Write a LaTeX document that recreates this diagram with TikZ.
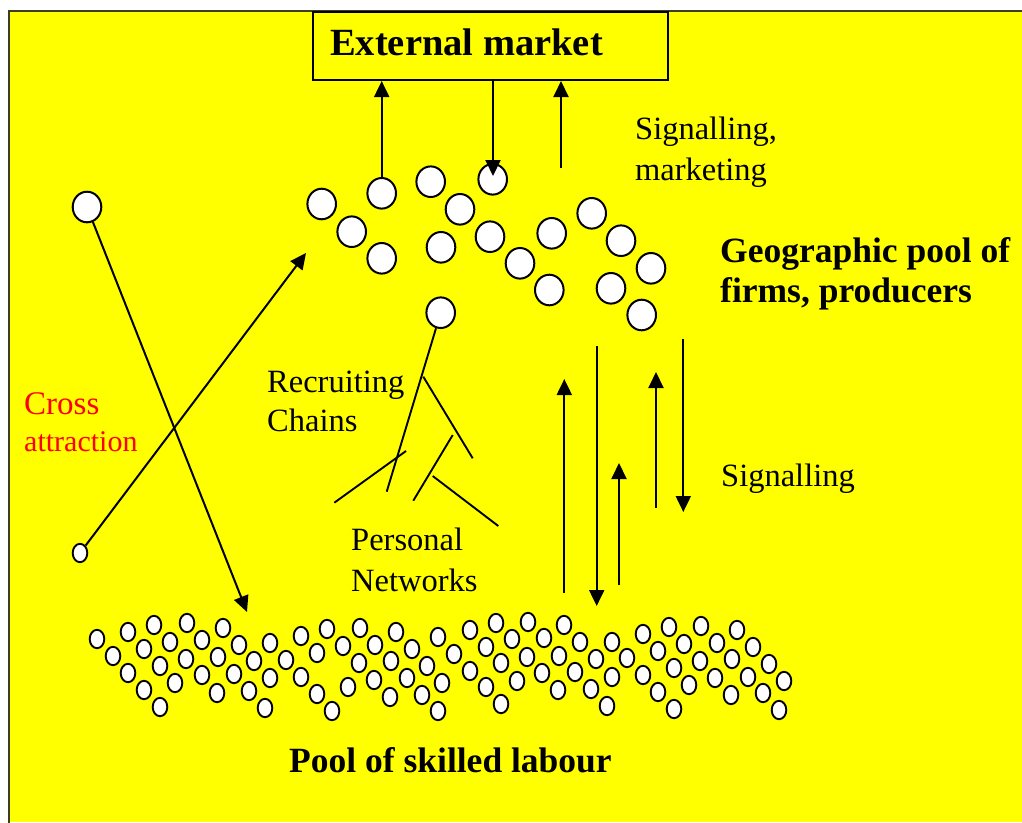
\documentclass[tikz,border=0pt]{standalone}
\usepackage{fontspec}
\setmainfont{Liberation Serif}
\usetikzlibrary{shapes.geometric,arrows.meta}
\definecolor{frameline}{RGB}{60,60,30}
\definecolor{bgyellow}{RGB}{255,255,0}
\begin{document}
\begin{tikzpicture}[x=1pt,y=-1pt,
  firm/.style={ellipse,draw=black,fill=white,line width=2pt,minimum width=28.6pt,minimum height=30.6pt,inner sep=0pt},
  worker/.style={ellipse,draw=black,fill=white,line width=1.9pt,minimum width=14.6pt,minimum height=18.4pt,inner sep=0pt},
  arr/.style={line width=2pt,-{Triangle[length=16pt,width=15pt]}},
  ln/.style={line width=1.9pt},
  lbl/.style={anchor=base west,inner sep=0pt,font=\fontsize{32.5}{38}\selectfont},
  blbl/.style={anchor=base west,inner sep=0pt,font=\fontsize{35.5}{40}\selectfont\bfseries},
  redlbl/.style={anchor=base west,inner sep=0pt,text=red}]
\useasboundingbox (0,0) rectangle (1022,822);
\fill[white] (0,0) rectangle (1022,822);
\fill[bgyellow] (9,11) rectangle (1022,822);
\draw[frameline,line width=2.5pt] (9,824) -- (9,11) -- (1024,11);

% External market box
\node[draw=black,line width=2pt,minimum width=355pt,minimum height=68pt,inner sep=0pt] (box) at (490.5,46) {};
\node[blbl,font=\fontsize{38.5}{42}\selectfont\bfseries] (extm) at (330,55) {External market};

% firms
\foreach \x/\y [count=\i] in {321.7/204, 381.7/193.3, 351.7/231.7, 381.7/258.3, 430.7/181.7, 460/209.3, 492.7/179.3, 441/247.3, 490/236.7, 520/263.3, 551.7/233.3, 549.3/290, 591.7/213.3, 621/240.7, 651/268.3, 611/288.3, 641.7/315}
  \node[firm] (f\i) at (\x,\y) {};
\node[firm] (rc) at (440.7,312.7) {};
\node[firm] (lone1) at (87,207) {};
\node[worker] (lone2) at (80,553) {};

% labour pool
\foreach \x/\y [count=\i] in {97/639, 113/656, 128/632, 128/673, 144/649, 144/690, 154/625, 160/707, 160/666, 170/642, 175/683, 187/623, 186/659, 202/675, 202/640, 217/693, 218/657, 223/628, 234/674, 239/645, 249/691, 254/661, 265/708, 270/643, 270/678, 286/660, 301/636, 301/677, 317/653, 317/694, 327/629, 332/711, 343/646, 348/687, 359/663, 360/628, 374/680, 375/645, 390/697, 391/661, 396/632, 407/678, 412/649, 422/695, 427/666, 438/637, 442/683, 438/711, 454/654, 470/630, 470/671, 486/647, 486/687, 496/623, 501/704, 501/663, 512/639, 517/681, 528/622, 527/657, 542/673, 544/638, 558/690, 559/656, 564/625, 575/672, 580/642, 591/689, 596/659, 607/706, 612/642, 612/677, 627/658, 643/634, 643/675, 658/651, 658/692, 669/627, 674/709, 674/668, 684/644, 689/685, 701/626, 700/661, 715/678, 717/643, 731/695, 732/659, 737/630, 748/677, 753/647, 763/693, 769/664, 779/710, 784/681}
  \node[worker] (l\i) at (\x,\y) {};

% arrows to/from external market
\draw[arr] (f2.north) -- (f2.north |- box.south);
\coordinate (d1) at (493,176);
\draw[arr] (d1 |- box.south) -- (d1);
\coordinate (u3) at (561,168);
\draw[arr] (u3) -- (u3 |- box.south);

% cross attraction
\coordinate (ct1) at (247,612);
\draw[arr] (lone1) -- (ct1);
\coordinate (ct2) at (306,253);
\draw[arr] (lone2) -- (ct2);

% vertical signalling arrows
\coordinate (a1s) at (564.3,593); \coordinate (a1e) at (564.3,379);
\coordinate (a2s) at (596.7,346); \coordinate (a2e) at (596.7,606);
\coordinate (a3s) at (619,585);   \coordinate (a3e) at (619,463);
\coordinate (a4s) at (656,508);   \coordinate (a4e) at (656,372);
\coordinate (a5s) at (683.3,339); \coordinate (a5e) at (683.3,512);
\draw[arr] (a1s) -- (a1e);
\draw[arr] (a2s) -- (a2e);
\draw[arr] (a3s) -- (a3e);
\draw[arr] (a4s) -- (a4e);
\draw[arr] (a5s) -- (a5e);

% recruiting chains tree
\coordinate (t1) at (386.7,491.7);
\coordinate (t2a) at (423.3,376.7); \coordinate (t2b) at (472.7,458.3);
\coordinate (t3a) at (334.3,502.7); \coordinate (t3b) at (406,451);
\coordinate (t4a) at (452.7,435);   \coordinate (t4b) at (413.3,500.7);
\coordinate (t5a) at (432.7,476);   \coordinate (t5b) at (498.3,526);
\draw[ln] (rc) -- (t1);
\draw[ln] (t2a) -- (t2b);
\draw[ln] (t3a) -- (t3b);
\draw[ln] (t4a) -- (t4b);
\draw[ln] (t5a) -- (t5b);

% labels
\node[lbl] (sig1) at (635,139) {Signalling,};
\node[lbl] (sig2) at (635,180) {marketing};
\node[blbl] (geo1) at (720,262) {Geographic pool of};
\node[blbl] (geo2) at (720,302) {firms, producers};
\node[lbl] (rec1) at (267,392) {Recruiting};
\node[lbl] (rec2) at (267,431) {Chains};
\node[lbl] (per1) at (351,550) {Personal};
\node[lbl] (per2) at (351,591) {Networks};
\node[lbl] (sig3) at (721,486) {Signalling};
\node[redlbl,font=\fontsize{33}{38}\selectfont] (cr1) at (24,414) {Cross};
\node[redlbl,font=\fontsize{30}{36}\selectfont] (cr2) at (24,451) {attraction};
\node[blbl] (pool) at (289,772) {Pool of skilled labour};
\end{tikzpicture}
\end{document}
